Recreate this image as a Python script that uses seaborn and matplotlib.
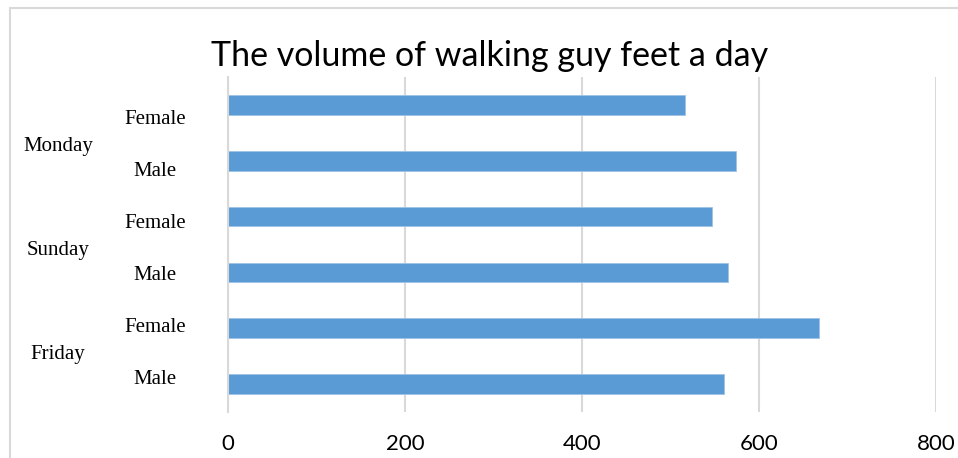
import matplotlib
matplotlib.use("Agg")
import matplotlib.pyplot as plt
import seaborn as sns
import pandas as pd
from matplotlib.patches import Rectangle

# ---- data (top to bottom) ----
days = ["Monday", "Sunday", "Friday"]
genders = ["Female", "Male"]
values = [516, 574, 547, 565, 668, 560]
x_ticks = [0, 200, 400, 600, 800]
title = "The volume of walking guy feet a day"

cats = [f"{d}|{g}" for d in days for g in genders]
df = pd.DataFrame({"cat": cats, "value": values})

sns.set_theme(style="white")
W, H = 958, 458
fig = plt.figure(figsize=(W / 100, H / 100), dpi=100)

def fx(px):
    return px / W

def fy(py):
    return 1 - py / H

ax_left, ax_right, ax_top, ax_bot = 228, 936, 77, 412
ax = fig.add_axes([fx(ax_left), fy(ax_bot), fx(ax_right) - fx(ax_left), (ax_bot - ax_top) / H])

sns.barplot(data=df, x="value", y="cat", order=cats, orient="h", color="#5B9BD5",
            saturation=1, width=0.35, ax=ax, edgecolor="#9DC3E6", linewidth=0.6)

ax.set_xlim(0, 800)
ax.set_ylim(len(cats) - 0.5, -0.5)
ax.set_xticks(x_ticks)
ax.set_xticklabels([str(t) for t in x_ticks], fontfamily="Lato", fontsize=16, color="#000000")
ax.tick_params(axis="x", length=0, pad=16)
ax.set_yticks([])
ax.set_xlabel("")
ax.set_ylabel("")
ax.xaxis.grid(True, color="#D9D9D9", linewidth=1.5)
ax.set_axisbelow(True)
for s in ["top", "right", "bottom"]:
    ax.spines[s].set_visible(False)
ax.spines["left"].set_color("#D9D9D9")
ax.spines["left"].set_linewidth(1.5)

# category labels (Excel multi-level axis)
sub_y0, sub_step = 120, 51.9
for i, c in enumerate(cats):
    g = c.split("|")[1]
    fig.text(fx(155), fy(sub_y0 + sub_step * i), g, ha="center", va="center",
             fontfamily="Liberation Serif", fontsize=15, color="#000000")
day_y0, day_step = 147, 103.5
for j, d in enumerate(days):
    fig.text(fx(58), fy(day_y0 + day_step * j), d, ha="center", va="center",
             fontfamily="Liberation Serif", fontsize=15, color="#000000")

fig.text(fx(490), fy(66), title, ha="center", va="baseline",
         fontfamily="Lato", fontsize=24.5, color="#000000")

# chart border
fig.patches.append(Rectangle((fx(10), fy(470)), fx(980) - fx(10), fy(8) - fy(470),
                             transform=fig.transFigure, fill=False,
                             edgecolor="#D9D9D9", linewidth=1.5))

fig.savefig("out.png", dpi=100)
